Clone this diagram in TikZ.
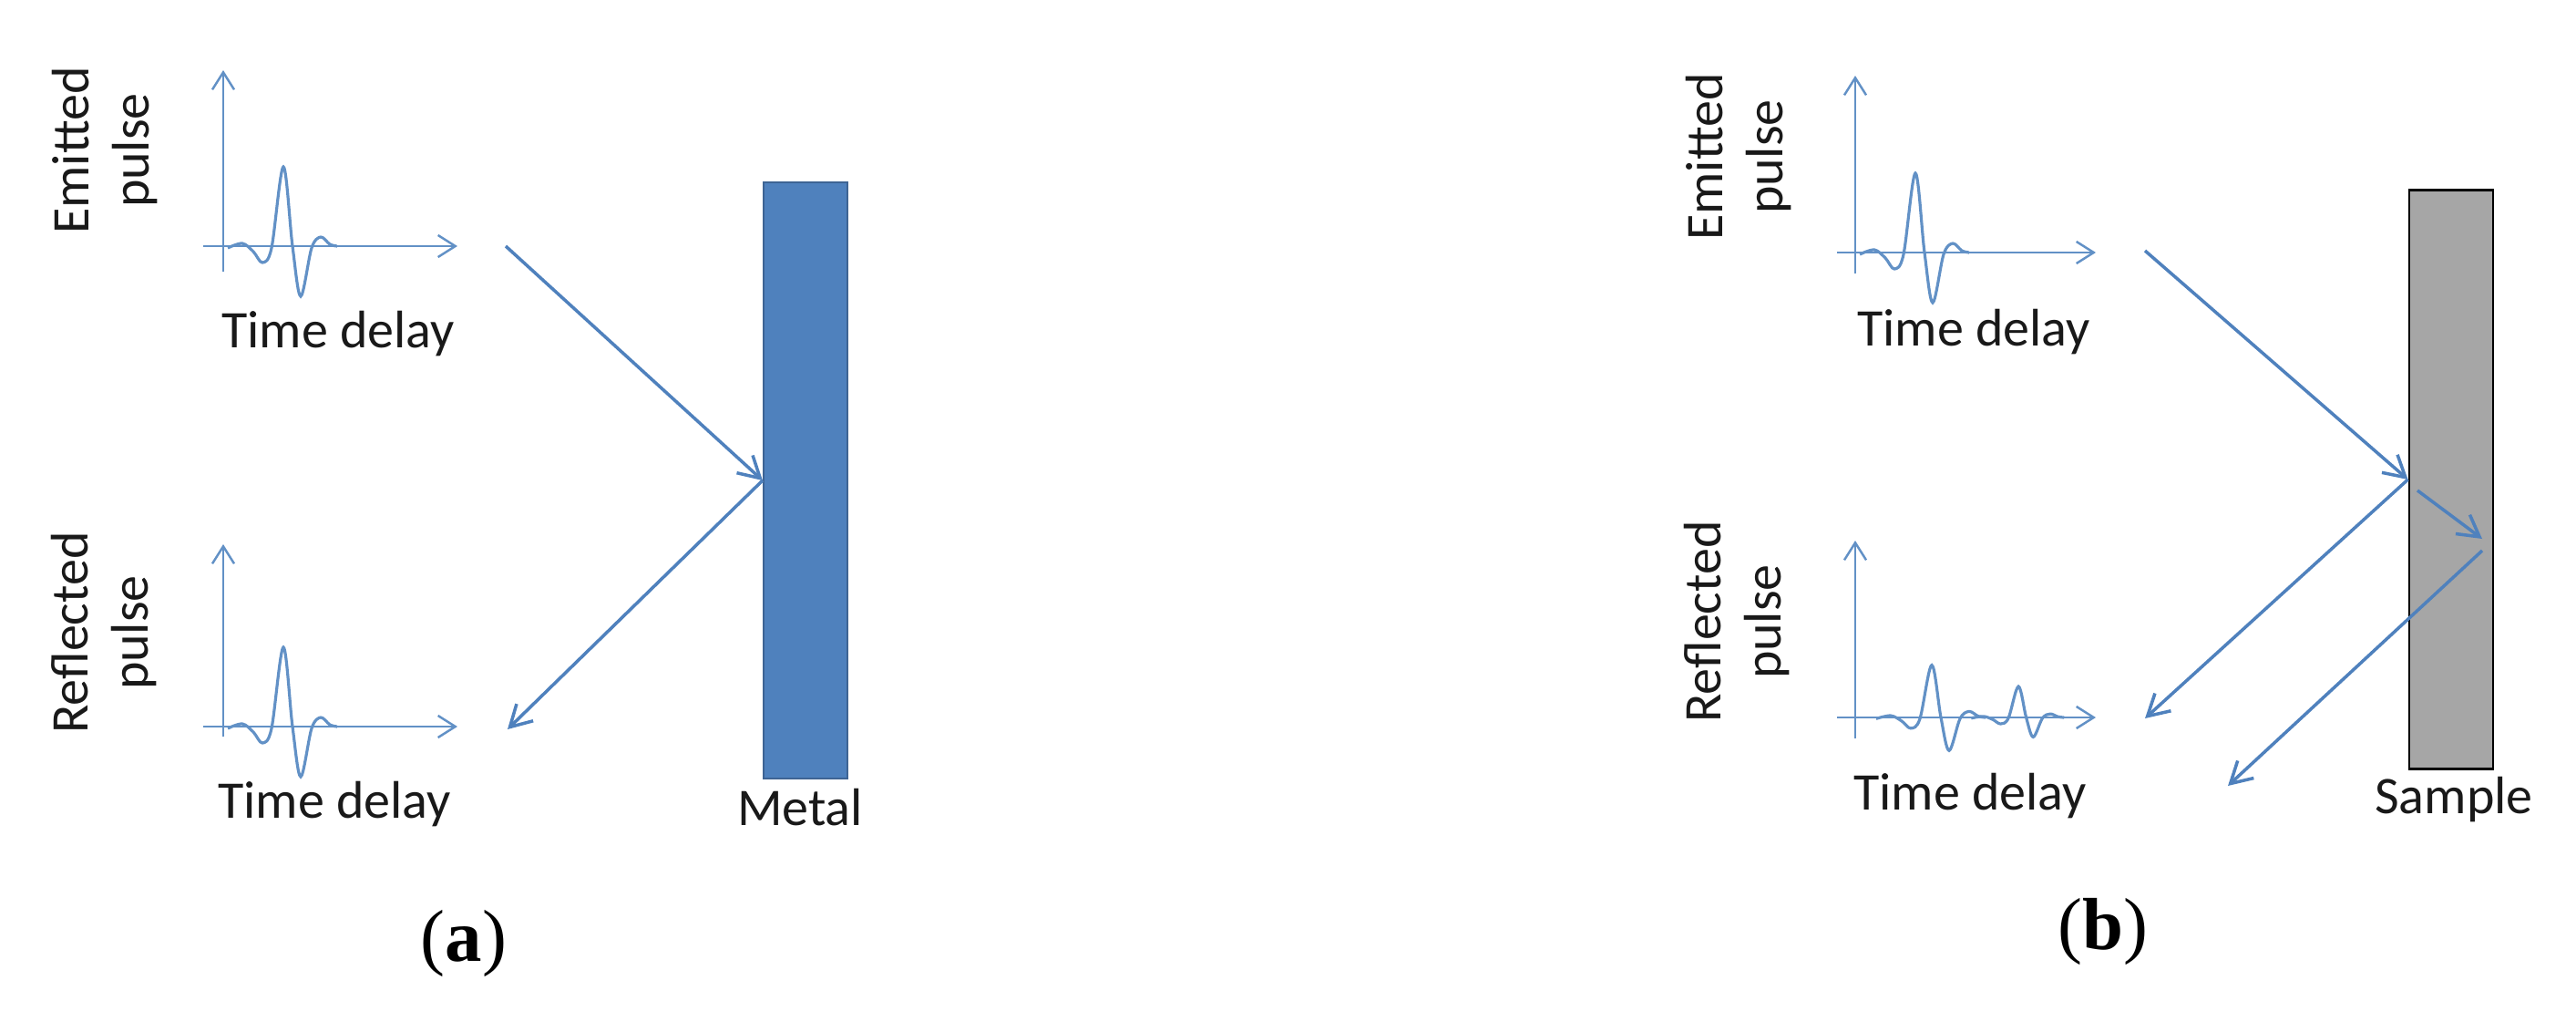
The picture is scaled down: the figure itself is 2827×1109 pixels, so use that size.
\documentclass[tikz,border=0pt]{standalone}
\usepackage{fontspec}
\setmainfont{Carlito}
\newfontfamily\captionserif{Liberation Serif}
\usetikzlibrary{arrows.meta, positioning}
\definecolor{raycolor}{RGB}{79,129,189}
\definecolor{plotblue}{RGB}{98,145,198}
\definecolor{metalblue}{RGB}{79,129,189}
\definecolor{metaledge}{RGB}{62,100,148}
\definecolor{samplegray}{RGB}{166,166,166}
\definecolor{labeltext}{RGB}{25,25,25}

\begin{document}
\begin{tikzpicture}[
    x=0.01cm, y=-0.01cm,
    ray/.style={-{Straight Barb[length=2.3mm, width=2.6mm]}, raycolor, line width=1pt},
    axis/.style={-{Straight Barb[length=1.9mm, width=2.4mm]}, plotblue, line width=0.7pt},
    curve/.style={plotblue, line width=0.9pt},
    plate/.style={rectangle, inner sep=0pt, minimum width=0.92cm},
    txt/.style={font=\fontsize{16.5}{19}\selectfont, text=labeltext, inner sep=0pt},
    ylab/.style={txt, rotate=90, align=center},
    sublabel/.style={font=\fontsize{23}{27}\selectfont\captionserif, inner sep=0pt},
    pics/pulse/.style={code={
        \draw[curve] plot[smooth, tension=0.55] coordinates {
            (5,2) (21,-3) (33,6) (43,18) (53,2) (66,-87) (76,0)
            (85,55) (97,2) (107,-10) (117,-2) (125,0)};
    }}
]
\useasboundingbox (0,0) rectangle (2827,1109);

% (a) metal mirror
\node[plate, fill=metalblue, draw=metaledge, line width=0.6pt, minimum height=6.53cm] (metal) at (884,527) {};
\node[txt, anchor=base] (metaltxt) at (878,905) {Metal};

% emitted pulse (a)
\draw[axis] (245,298) -- (245,77);
\draw[axis] (223,270) -- (502,270);
\pic at (245,270) {pulse};
\node[ylab] (emitA) at (115,165) {Emitted\\pulse};
\node[txt, anchor=base] (timeEA) at (371,381) {Time delay};

% reflected pulse (a)
\draw[axis] (245,808) -- (245,597);
\draw[axis] (223,797) -- (502,797);
\pic at (245,797) {pulse};
\node[ylab] (reflA) at (114,694) {Reflected\\pulse};
\node[txt, anchor=base] (timeRA) at (367,897) {Time delay};

% rays (a)
\coordinate (inA) at (555,270);
\coordinate (outA) at (557,800);
\draw[ray] (inA) -- (metal.west);
\draw[ray] (metal.west) -- (outA);

\node[sublabel] (labA) at (509,1035) {(\textbf{a})};

% (b) sample slab
\node[plate, fill=samplegray, draw=black, line width=0.8pt, minimum height=6.35cm] (sample) at (2690,526) {};
\node[txt, anchor=base] (sampletxt) at (2693,892) {Sample};

% emitted pulse (b)
\draw[axis] (2036,300) -- (2036,83);
\draw[axis] (2016,277) -- (2300,277);
\pic at (2036,277) {pulse};
\node[ylab] (emitB) at (1908,172) {Emitted\\pulse};
\node[txt, anchor=base] (timeEB) at (2166,379) {Time delay};

% reflected pulses (b)
\draw[axis] (2036,810) -- (2036,593);
\draw[axis] (2016,787) -- (2300,787);
\pic[yscale=0.66] at (2054,787) {pulse};
\pic[xscale=0.85, yscale=0.39] at (2159,787) {pulse};
\node[ylab] (reflB) at (1906,682) {Reflected\\pulse};
\node[txt, anchor=base] (timeRB) at (2162,888) {Time delay};

% rays (b)
\coordinate (inB) at (2354,275);
\coordinate (outB) at (2354,788);
\coordinate (inner) at (2653,538);
\coordinate (back) at (2724,591);
\coordinate (backout) at (2724,604);
\coordinate (outB2) at (2445,862);
\draw[ray] (inB) -- (sample.west);
\draw[ray] (sample.west) -- (outB);
\draw[ray] (inner) -- (back);
\draw[ray] (backout) -- (outB2);

\node[sublabel] (labB) at (2308,1022) {(\textbf{b})};

\end{tikzpicture}
\end{document}
